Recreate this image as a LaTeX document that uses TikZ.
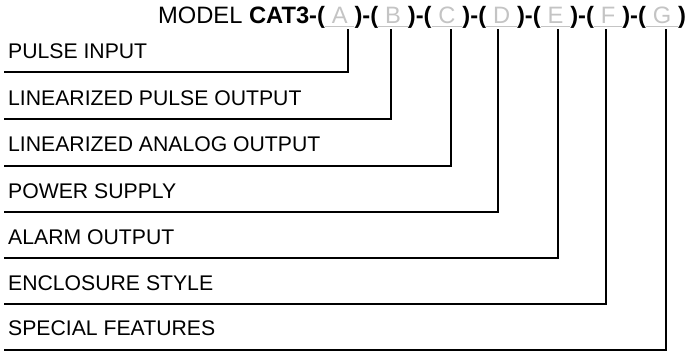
\documentclass[tikz,border=0pt]{standalone}
\usepackage{fontspec}
\setmainfont{Liberation Sans}
\newcommand\lbfont{\fontsize{21.2}{25}\selectfont}
\newcommand\ttlfont{\fontsize{23.7}{28}\selectfont}
\definecolor{fieldgray}{HTML}{C4C4C4}
\begin{document}
\begin{tikzpicture}[x=1pt,y=-1pt,
  lbl/.style={anchor=base west, inner sep=0pt, font=\lbfont},
  ttl/.style={anchor=base west, inner sep=0pt, font=\ttlfont},
  fld/.style={anchor=base west, inner ysep=0pt, inner xsep=6.5pt, text=fieldgray, font=\ttlfont},
  sepr/.style={anchor=base west, inner sep=0pt, font=\ttlfont\bfseries},
  uline/.style={draw=fieldgray, line width=1.5pt},
  conn/.style={line width=2pt, line cap=rect}]
\useasboundingbox (0,0) rectangle (690,351);
% title
\node[ttl] (model) at (158,23) {MODEL \textbf{CAT3-(}};
\node[fld] (fA) at (model.base east) {A};
\node[sepr] (sAB) at (fA.base east) {)-(};
\node[fld] (fB) at (sAB.base east) {B};
\node[sepr] (sBC) at (fB.base east) {)-(};
\node[fld] (fC) at (sBC.base east) {C};
\node[sepr] (sCD) at (fC.base east) {)-(};
\node[fld] (fD) at (sCD.base east) {D};
\node[sepr] (sDE) at (fD.base east) {)-(};
\node[fld] (fE) at (sDE.base east) {E};
\node[sepr] (sEF) at (fE.base east) {)-(};
\node[fld] (fF) at (sEF.base east) {F};
\node[sepr] (sFG) at (fF.base east) {)-(};
\node[fld] (fG) at (sFG.base east) {G};
\node[sepr] (sEnd) at (fG.base east) {)};
\foreach \n in {A,B,C,D,E,F,G}
  \draw[uline] ([yshift=-3.5pt]f\n.base west) -- ([yshift=-3.5pt]f\n.base east);
% labels
\node[lbl] (lA) at (8,58) {PULSE INPUT};
\node[lbl] (lB) at (8,105) {LINEARIZED PULSE OUTPUT};
\node[lbl] (lC) at (8,151.5) {LINEARIZED ANALOG OUTPUT};
\node[lbl] (lD) at (8,198) {POWER SUPPLY};
\node[lbl] (lE) at (8,244) {ALARM OUTPUT};
\node[lbl] (lF) at (8,290) {ENCLOSURE STYLE};
\node[lbl] (lG) at (8,335.5) {SPECIAL FEATURES};
% connectors
\foreach \n/\x/\y in {A/348/72,B/391/119,C/451/165.5,D/498/212,E/558/258,F/606/304,G/666/349.5}{
  \coordinate (top\n) at (\x,30);
  \coordinate (end\n) at (5,\y);
  \draw[conn] (top\n) |- (end\n);
}
\end{tikzpicture}
\end{document}
